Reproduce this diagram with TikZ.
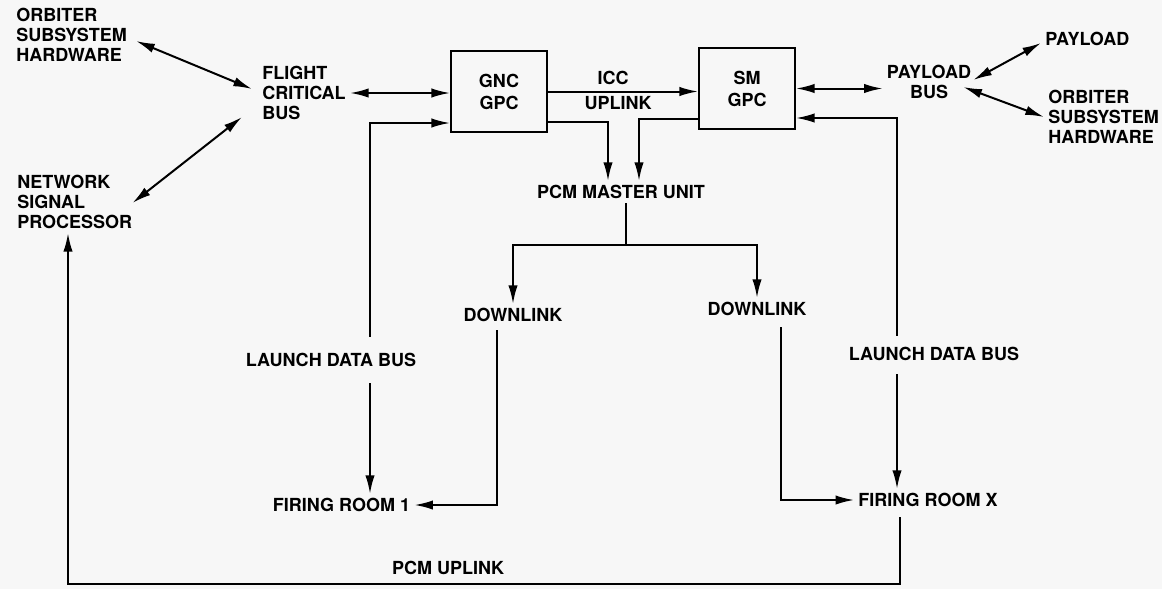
\documentclass[tikz,border=0pt]{standalone}
\usepackage{fontspec}
\setmainfont{TeX Gyre Heros}
\usetikzlibrary{arrows.meta,calc}
\begin{document}
\begin{tikzpicture}[x=0.75pt,y=-0.75pt,
  every node/.style={font=\fontsize{13.5}{15}\selectfont\bfseries, inner sep=3pt},
  lbl/.style={align=left},
  cbox/.style={draw, line width=1.3pt, minimum width=72pt, minimum height=60.75pt, align=center, font=\fontsize{13.5}{16.5}\selectfont\bfseries},
  conn/.style={line width=1.5pt},
  arr/.style={conn, -{Latex[length=14pt,width=7pt]}},
  dbl/.style={conn, {Latex[length=14pt,width=7pt]}-{Latex[length=14pt,width=7pt]}}]
\fill[white!97!black] (0,0) rectangle (1162,589);
\useasboundingbox (0,0) rectangle (1162,589);

\node[lbl, anchor=west] (osh1) at (12,34.5) {ORBITER\\SUBSYSTEM\\HARDWARE};
\node[lbl, anchor=west] (fcb) at (258,93) {FLIGHT\\CRITICAL\\BUS};
\node[lbl, anchor=west] (nsp) at (13,202) {NETWORK\\SIGNAL\\PROCESSOR};
\node[cbox] (gnc) at (499,91.5) {GNC\\GPC};
\node[cbox] (sm) at (747,88.5) {SM\\GPC};
\node (icc) at (613,78) {ICC};
\node (upl) at (618,103) {UPLINK};
\node (pcm) at (621,192) {PCM MASTER UNIT};
\node (dl1) at (513,315) {DOWNLINK};
\node (dl2) at (757,309) {DOWNLINK};
\node (ldb1) at (331,360) {LAUNCH DATA BUS};
\node (ldb2) at (934,354) {LAUNCH DATA BUS};
\node (fr1) at (341.5,505) {FIRING ROOM 1};
\node (frx) at (928,500) {FIRING ROOM X};
\node (pcmu) at (448,568) {PCM UPLINK};
\node[align=center] (pb) at (929,82) {PAYLOAD\\BUS};
\node[lbl, anchor=west] (pay) at (1041,39) {PAYLOAD};
\node[lbl, anchor=west] (osh2) at (1044,117) {ORBITER\\SUBSYSTEM\\HARDWARE};

\coordinate (l1) at (370,123);
\coordinate (r1) at (897,118);
\coordinate (br) at (626,245);
\coordinate (b1) at (900,584);
\coordinate (b2) at (68,584);

\draw[dbl] ($(osh1.east)+(5,6.5)$) -- ($(fcb.west)+(-6,-4)$);
\draw[dbl] (fcb.east) -- (fcb.east -| gnc.west);
\draw[dbl] ($(nsp.east)+(-4,1)$) -- ($(fcb.west)+(-16,24)$);
\draw[arr] (gnc.east) -- (gnc.east -| sm.west);
\draw[arr] ($(gnc.south east)+(0,-11)$) -| ($(pcm.north)+(-13,0)$);
\draw[arr] ($(sm.south west)+(0,-11)$) -| ($(pcm.north)+(18,0)$);
\draw[conn] (pcm.south -| br) -- (br);
\draw[arr] (br) -| (dl1.north);
\draw[arr] (br) -| (dl2.north);
\draw[arr] ($(dl1.south)+(-16,4)$) |- (fr1.east);
\draw[arr] ($(dl2.south)+(24,7)$) |- (frx.west);
\draw[arr] ($(ldb1.north -| l1)+(0,-12)$) |- (gnc.west |- l1);
\draw[arr] ($(ldb1.south -| l1)+(0,12)$) -- (l1 |- fr1.north);
\draw[arr] ($(ldb2.north -| r1)+(0,-7)$) |- (sm.east |- r1);
\draw[arr] ($(ldb2.south -| r1)+(0,9)$) -- (r1 |- frx.north);
\draw[arr] ($(frx.south -| b1)+(0,6)$) -- (b1) -- (b2) -- (b2 |- nsp.south);
\draw[dbl] (sm.east) -- (sm.east -| pb.west);
\draw[dbl] ($(pb.east)+(-2,-2)$) -- ($(pay.west)+(0,4)$);
\draw[dbl] ($(pb.east)+(-12,5)$) -- (osh2.west);
\end{tikzpicture}
\end{document}
